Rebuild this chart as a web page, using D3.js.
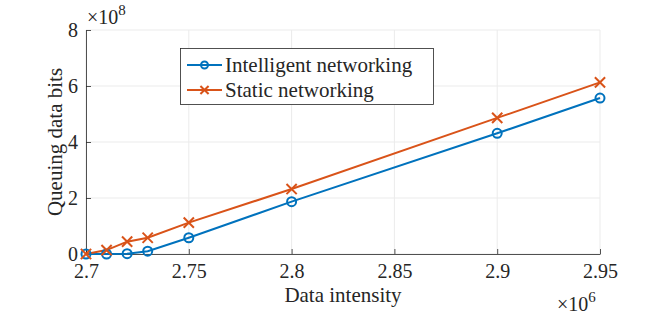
<!DOCTYPE html>
<html><head><meta charset="utf-8">
<script src="https://cdn.jsdelivr.net/npm/d3@7"></script>
</head><body style="margin:0">
<script>
const xValues = [2.7, 2.71, 2.72, 2.73, 2.75, 2.8, 2.9, 2.95];
const intelligent = [0, 0, 0.01, 0.1, 0.58, 1.87, 4.31, 5.57];
const staticNet = [0, 0.14, 0.44, 0.58, 1.12, 2.32, 4.86, 6.13];
const xTicks = [2.7, 2.75, 2.8, 2.85, 2.9, 2.95];
const yTicks = [0, 2, 4, 6, 8];
const seriesNames = ["Intelligent networking", "Static networking"];
const colors = ["#0072BD", "#D95319"];

const FONT = '"Liberation Serif", "Times New Roman", Tinos';
const W = 664, H = 315;
const m = {l: 86, r: 64, t: 30, b: 61};
const svg = d3.select("body").append("svg").attr("width", W).attr("height", H).style("display", "block");
const x = d3.scaleLinear().domain([2.7, 2.95]).range([m.l, W - m.r]);
const y = d3.scaleLinear().domain([0, 8]).range([H - m.b, m.t]);

// grid
const g = svg.append("g");
g.selectAll(".gx").data(xTicks).join("line").attr("x1", d => x(d)).attr("x2", d => x(d))
  .attr("y1", y(0)).attr("y2", y(8)).attr("stroke", "#ebebeb").attr("stroke-width", 1);
g.selectAll(".gy").data(yTicks).join("line").attr("y1", d => y(d)).attr("y2", d => y(d))
  .attr("x1", x(2.7)).attr("x2", x(2.95)).attr("stroke", "#ebebeb").attr("stroke-width", 1);

// axes
const xa = svg.append("g").attr("transform", `translate(0,${y(0)})`)
  .call(d3.axisBottom(x).tickValues(xTicks).tickSize(-5).tickSizeOuter(0).tickPadding(18).tickFormat(d3.format("")));
const ya = svg.append("g").attr("transform", `translate(${x(2.7)},0)`)
  .call(d3.axisLeft(y).tickValues(yTicks).tickSize(-5).tickSizeOuter(0).tickPadding(8).tickFormat(d3.format("")));
[xa, ya].forEach(a => {
  a.attr("font-family", FONT).attr("font-size", null);
  a.select(".domain").attr("stroke", "#262626").attr("stroke-width", 0.8);
  a.selectAll(".tick line").attr("stroke", "#262626").attr("stroke-width", 0.8);
  a.selectAll("text").attr("font-size", 20).style("font-family", FONT).attr("fill", "#262626");
});
xa.selectAll("text").attr("dy", "0.3em");
ya.selectAll("text").attr("dy", "0.32em");

function T(sel, size) { return sel.attr("font-size", size).style("font-family", FONT).attr("fill", "#262626"); }
// labels
T(svg.append("text"), 21).attr("x", x(2.825)).attr("y", 302).attr("text-anchor", "middle").text("Data intensity");
T(svg.append("text"), 21).attr("transform", `translate(62,${y(4)}) rotate(-90)`).attr("text-anchor", "middle").text("Queuing data bits");

const e8 = T(svg.append("text"), 20).attr("x", 87).attr("y", 24);
e8.append("tspan").text("×10");
e8.append("tspan").attr("font-size", 15).attr("dy", -9).text("8");
const e6 = T(svg.append("text"), 20).attr("x", 557).attr("y", 311);
e6.append("tspan").text("×10");
e6.append("tspan").attr("font-size", 15).attr("dy", -9).text("6");

// lines
const line = d3.line().x((d, i) => x(xValues[i])).y(d => y(d));
[intelligent, staticNet].forEach((s, k) => {
  svg.append("path").datum(s).attr("d", line).attr("fill", "none").attr("stroke", colors[k]).attr("stroke-width", 2);
});
svg.selectAll(".mc").data(intelligent).join("circle").attr("cx", (d, i) => x(xValues[i])).attr("cy", d => y(d))
  .attr("r", 4.5).attr("fill", "none").attr("stroke", colors[0]).attr("stroke-width", 2);
const cross = d3.symbol().type(d3.symbolX).size(70);
svg.selectAll(".mx").data(staticNet).join("path").attr("d", cross)
  .attr("transform", (d, i) => `translate(${x(xValues[i])},${y(d)})`)
  .attr("fill", "none").attr("stroke", colors[1]).attr("stroke-width", 2);

// legend
const lg = svg.append("g");
lg.append("rect").attr("x", 180.5).attr("y", 48.5).attr("width", 253).attr("height", 56)
  .attr("fill", "#fff").attr("stroke", "#262626").attr("stroke-width", 0.8);
seriesNames.forEach((n, k) => {
  const cy = 65 + k * 25;
  lg.append("line").attr("x1", 187).attr("x2", 222).attr("y1", cy).attr("y2", cy).attr("stroke", colors[k]).attr("stroke-width", 2);
  if (k === 0) lg.append("circle").attr("cx", 204.5).attr("cy", cy).attr("r", 3.5).attr("fill", "none").attr("stroke", colors[0]).attr("stroke-width", 2);
  else lg.append("path").attr("d", d3.symbol().type(d3.symbolX).size(45)).attr("transform", `translate(204.5,${cy})`).attr("fill", "none").attr("stroke", colors[1]).attr("stroke-width", 2);
  T(lg.append("text"), 21).attr("x", 225).attr("y", cy).attr("dy", "0.33em").text(n);
});
</script>
</body></html>
